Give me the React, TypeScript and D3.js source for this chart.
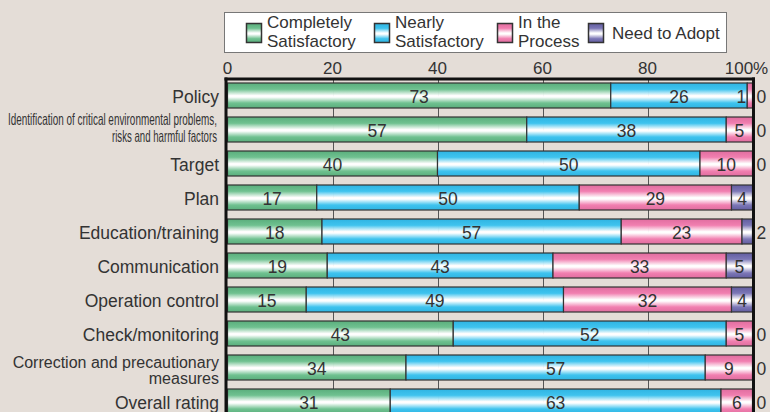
import React from "react";
import * as d3 from "d3";

const categories = [
  "Policy",
  "Identification",
  "Target",
  "Plan",
  "Education/training",
  "Communication",
  "Operation control",
  "Check/monitoring",
  "Correction",
  "Overall rating",
];
const categoryLines: string[][] = [
  ["Policy"],
  ["Identification of critical environmental problems,", "risks and harmful factors"],
  ["Target"],
  ["Plan"],
  ["Education/training"],
  ["Communication"],
  ["Operation control"],
  ["Check/monitoring"],
  ["Correction and precautionary", "measures"],
  ["Overall rating"],
];
const seriesNames = ["Completely Satisfactory", "Nearly Satisfactory", "In the Process", "Need to Adopt"];
const legendLines = [["Completely", "Satisfactory"], ["Nearly", "Satisfactory"], ["In the", "Process"], ["Need to Adopt"]];
const completely = [73, 57, 40, 17, 18, 19, 15, 43, 34, 31];
const nearly = [26, 38, 50, 50, 57, 43, 49, 52, 57, 63];
const inProcess = [1, 5, 10, 29, 23, 33, 32, 5, 9, 6];
const needAdopt = [0, 0, 0, 4, 2, 5, 4, 0, 0, 0];
const tickValues = [0, 20, 40, 60, 80, 100];
const colors = ["#6fc190", "#3ec3ee", "#f17fb0", "#7c77b6"];
const darkColors = ["#5aae7c", "#2fb4e2", "#e06d9f", "#625da0"];

const W = 770, H = 412;
const FONT = "'Liberation Sans', Arial, sans-serif";

export default function App() {
  const x = d3.scaleLinear().domain([0, 100]).range([227.5, 752.5]);
  const y = d3.scaleBand<string>().domain(categories).range([78.5, 418.5]).paddingInner(9 / 34).paddingOuter(4.5 / 34);
  const series = [completely, nearly, inProcess, needAdopt];
  const table = categories.map((c, i) => {
    const row: any = { cat: c };
    seriesNames.forEach((s, k) => (row[s] = series[k][i]));
    return row;
  });
  const stacked = d3.stack<any>().keys(seriesNames)(table);
  const bw = y.bandwidth();

  return (
    <svg width={W} height={H} style={{ position: "absolute", left: 0, top: 0 }} fontFamily={FONT}>
      <defs>
        {colors.map((c, k) => (
          <linearGradient key={k} id={`g${k}`} x1="0" y1="0" x2="0" y2="1">
            <stop offset="0" stopColor={darkColors[k]} />
            <stop offset="0.25" stopColor={c} />
            <stop offset="0.5" stopColor="#ffffff" stopOpacity="0.95" />
            <stop offset="0.56" stopColor="#ffffff" />
            <stop offset="0.8" stopColor={c} />
            <stop offset="1" stopColor={darkColors[k]} />
          </linearGradient>
        ))}
      </defs>
      <rect width={W} height={H} fill="#e4ddd7" />

      {/* legend */}
      <rect x={224.5} y={12.5} width={502} height={40} fill="#ffffff" stroke="#777" strokeWidth={1} />
      {[246, 374, 497, 588].map((lx, k) => (
        <g key={k}>
          <rect x={lx + 0.5} y={23.5} width={15} height={19} fill={`url(#g${k})`} stroke="#333" strokeWidth={1.5} />
          {legendLines[k].length === 2 ? (
            <>
              <text x={lx + 21} y={28} fontSize={17} fill="#333">{legendLines[k][0]}</text>
              <text x={lx + 21} y={47} fontSize={17} fill="#333">{legendLines[k][1]}</text>
            </>
          ) : (
            <text x={lx + 24} y={39} fontSize={17} fill="#333">{legendLines[k][0]}</text>
          )}
        </g>
      ))}

      {/* tick labels */}
      {tickValues.map((t) => (
        <text key={t} x={t === 100 ? x(t) - 6 : x(t)} y={74} fontSize={17} fill="#333" textAnchor="middle">
          {t === 100 ? "100%" : t}
        </text>
      ))}

      {/* gridlines */}
      {tickValues.slice(1, 5).map((t) => (
        <line key={t} x1={Math.round(x(t)) + 0.5} x2={Math.round(x(t)) + 0.5} y1={79} y2={H} stroke="#555" strokeWidth={1} />
      ))}

      {/* bars */}
      {stacked.map((s, k) => (
        <g key={k}>
          {s.map((d, i) => {
            const v = d[1] - d[0];
            if (v <= 0) return null;
            return (
              <rect
                key={i}
                x={x(d[0])}
                y={y(categories[i])!}
                width={x(d[1]) - x(d[0])}
                height={bw}
                fill={`url(#g${k})`}
                stroke="#333"
                strokeWidth={1.2}
              />
            );
          })}
        </g>
      ))}

      {/* value labels */}
      {stacked.map((s, k) => (
        <g key={k}>
          {s.map((d, i) => {
            const v = d[1] - d[0];
            const cy = y(categories[i])! + bw / 2 + 7;
            let lx = (x(d[0]) + x(d[1])) / 2;
            let anchor = "middle";
            if (k === 3 && v < 3) {
              lx = x(100) + 4;
              anchor = "start";
            } else if (v < 3) {
              lx = x(d[0]) - 1;
              anchor = "end";
            }
            return (
              <text key={i} x={lx} y={cy} fontSize={17.5} fill="#333" textAnchor={anchor}>
                {v}
              </text>
            );
          })}
        </g>
      ))}

      {/* category labels */}
      {categories.map((c, i) => {
        const cy = y(c)! + bw / 2;
        const lines = categoryLines[i];
        if (i === 1) {
          return (
            <g key={c} fontSize={16.5} fill="#333" textAnchor="end">
              <text x={217} y={cy - 5} textLength={209} lengthAdjust="spacingAndGlyphs">{lines[0]}</text>
              <text x={217} y={cy + 12} textLength={105} lengthAdjust="spacingAndGlyphs">{lines[1]}</text>
            </g>
          );
        }
        if (lines.length === 2) {
          return (
            <g key={c} fontSize={16} fill="#333" textAnchor="end">
              <text x={219} y={cy + 0.5}>{lines[0]}</text>
              <text x={219} y={cy + 16.5}>{lines[1]}</text>
            </g>
          );
        }
        return (
          <text key={c} x={219} y={cy + 7} fontSize={17.5} fill="#333" textAnchor="end">
            {lines[0]}
          </text>
        );
      })}

      {/* frame */}
      <line x1={226} x2={226} y1={77.5} y2={H} stroke="#111" strokeWidth={3} />
      <line x1={224.5} x2={755} y1={79} y2={79} stroke="#111" strokeWidth={3} />
      <line x1={753.5} x2={753.5} y1={77.5} y2={H} stroke="#111" strokeWidth={3} />
    </svg>
  );
}
